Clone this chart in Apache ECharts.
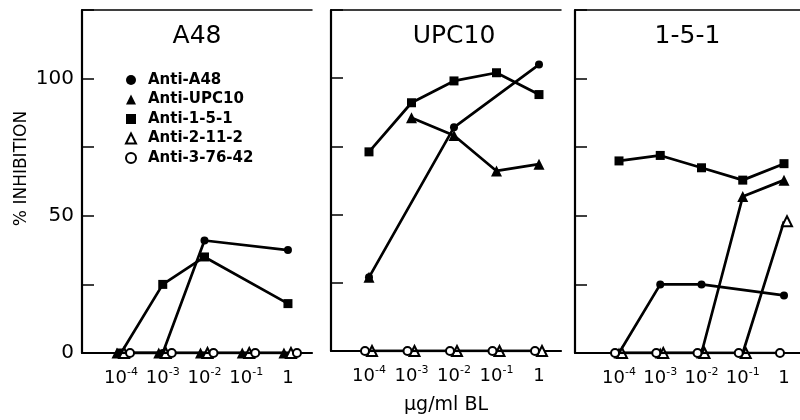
<!DOCTYPE html>
<html>
<head>
<meta charset="utf-8">
<script src="https://cdn.jsdelivr.net/npm/echarts@6/dist/echarts.min.js"></script>
<style>
html,body{margin:0;padding:0;background:#fff;}
#chart{width:800px;height:420px;}
</style>
</head>
<body>
<div id="chart"></div>
<script>
// ---------- data ----------
const xExponents = [-4, -3, -2, -1, 0];           // log10(µg/ml BL)
const panelTitles = ['A48', 'UPC10', '1-5-1'];
const seriesNames = ['Anti-A48', 'Anti-UPC10', 'Anti-1-5-1', 'Anti-2-11-2', 'Anti-3-76-42'];
const yTickValues = [0, 25, 50, 75, 100, 125];
const yLabelValues = [0, 50, 100];

// Panel A48 (% inhibition at 1e-4 .. 1)
const a48_antiA48   = [0, 0, 41, null, 37.5];
const a48_antiUPC10 = [0, 0, 0, 0, 0];
const a48_anti151   = [0, 25, 35, null, 18];
const a48_anti2112  = [0, 0, 0, 0, 0];
const a48_anti37642 = [0, 0, 0, 0, 0];

// Panel UPC10
const upc_antiA48   = [27, null, 82, null, 105];
const upc_antiUPC10 = [null, 85.5, 79, 66, 68.5];
const upc_antiUPC10_unlinked = [27, null, null, null, null];
const upc_anti151   = [73, 91, 99, 102, 94];
const upc_anti2112  = [0, 0, 0, 0, 0];
const upc_anti37642 = [0, 0, 0, 0, 0];

// Panel 1-5-1
const p151_antiA48   = [0, 25, 25, null, 21];
const p151_antiUPC10 = [0, 0, 0, 57, 63];
const p151_anti151   = [70, 72, 67.5, 63, 69];
const p151_anti2112  = [0, 0, 0, 0, 48];
const p151_anti37642 = [0, 0, 0, 0, 0];

// ---------- layout / style ----------
const FONT = 'DejaVu Sans';
const grids = [
  {left: 82,  top: 10, width: 230, height: 343},
  {left: 331, top: 10, width: 230, height: 343},
  {left: 575, top: 10, width: 225, height: 343}
];
const xRanges = [[-4.935, 0.576], [-4.894, 0.518], [-5.067, 0.388]];
const symbols = ['circle', 'triangle', 'rect', 'emptyTriangle', 'emptyCircle'];
const symbolSizes = [8, 11, 9, 10, 8];
const offsetsByPanel = [
  [0, -4, 0, 3, 9],
  [0, 0, 0, 3, -4],
  [0, 0, 0, 3, -4]
];
const panelData = [
  [a48_antiA48, a48_antiUPC10, a48_anti151, a48_anti2112, a48_anti37642],
  [upc_antiA48, upc_antiUPC10, upc_anti151, upc_anti2112, upc_anti37642],
  [p151_antiA48, p151_antiUPC10, p151_anti151, p151_anti2112, p151_anti37642]
];

function toPoints(vals) {
  return xExponents.map((x, k) => [x, vals[k]]).filter(p => p[1] !== null);
}

const xAxes = [], yAxes = [], series = [];
grids.forEach((g, i) => {
  xAxes.push({
    type: 'value', gridIndex: i, position: 'bottom',
    min: xRanges[i][0], max: xRanges[i][1],
    axisLine: {show: true, onZero: false, lineStyle: {color: '#000', width: 2.2}},
    axisTick: {show: false},
    splitLine: {show: false},
    axisLabel: {
      customValues: xExponents,
      margin: 14,
      color: '#000', fontFamily: FONT, fontSize: 18, lineHeight: 22,
      formatter: v => (v === 0 ? '1' : '10{sup|' + v + '}'),
      rich: {sup: {fontSize: 11, lineHeight: 11, verticalAlign: 'top', fontFamily: FONT, color: '#000'}}
    },
    name: i === 1 ? 'μg/ml BL' : '',
    nameLocation: 'middle', nameGap: 45,
    nameTextStyle: {color: '#000', fontFamily: FONT, fontSize: 19}
  });
  yAxes.push({
    type: 'value', gridIndex: i,
    min: 0, max: 125, interval: 25,
    axisLine: {show: true, onZero: false, lineStyle: {color: '#000', width: 2.2}},
    axisTick: {show: true, inside: true, length: 12, lineStyle: {color: '#000', width: 1.5}},
    splitLine: {show: false},
    axisLabel: {
      show: i === 0, margin: 8, color: '#000', fontFamily: FONT, fontSize: 20,
      formatter: v => (yLabelValues.indexOf(v) >= 0 ? String(v) : '')
    },
    name: i === 0 ? '% INHIBITION' : '',
    nameLocation: 'middle', nameGap: 52, nameRotate: 90,
    nameTextStyle: {color: '#000', fontFamily: FONT, fontSize: 17, padding: [0, 0, 0, 26]}
  });
  panelData[i].forEach((vals, j) => {
    series.push({
      type: 'line', name: seriesNames[j],
      xAxisIndex: i, yAxisIndex: i,
      data: toPoints(vals),
      symbol: symbols[j], symbolSize: symbolSizes[j],
      symbolOffset: [offsetsByPanel[i][j], 0],
      showAllSymbol: true,
      lineStyle: {color: '#000', width: 2.7},
      itemStyle: {color: '#000', borderColor: '#000', borderWidth: j >= 3 ? 1.8 : 0},
      z: 3 + j
    });
  });
});
// top border lines of panels
grids.forEach((g, i) => {
  xAxes.push({
    type: 'value', gridIndex: i, position: 'top',
    min: xRanges[i][0], max: xRanges[i][1],
    axisLine: {show: true, onZero: false, lineStyle: {color: '#000', width: 1.5}},
    axisTick: {show: false}, axisLabel: {show: false}, splitLine: {show: false}
  });
});
// isolated triangle in UPC10 panel (not joined by a line)
series.push({
  type: 'scatter', name: 'Anti-UPC10', xAxisIndex: 1, yAxisIndex: 1,
  data: toPoints(upc_antiUPC10_unlinked),
  symbol: 'triangle', symbolSize: 11, itemStyle: {color: '#000', opacity: 1}, z: 8
});

const option = {
  animation: false,
  backgroundColor: '#fff',
  grid: grids,
  xAxis: xAxes,
  yAxis: yAxes,
  series: series,
  legend: {
    orient: 'vertical', left: 120, top: 67,
    itemWidth: 10, itemHeight: 10, itemGap: 3.5,
    selectedMode: false,
    data: seriesNames.map((n, j) => ({name: n, icon: symbols[j]})),
    textStyle: {color: '#000', fontFamily: FONT, fontSize: 15, fontWeight: 'bold', lineHeight: 16, padding: [0, 0, 0, 7]}
  },
  graphic: panelTitles.map((t, i) => ({
    type: 'text',
    style: {
      text: t, x: grids[i].left + grids[i].width / 2 + (i === 1 ? 8 : 0), y: 24,
      textAlign: 'center', fill: '#000', fontFamily: FONT, fontSize: 25
    }
  }))
};

const chart = echarts.init(document.getElementById('chart'), null, {renderer: 'canvas'});
chart.setOption(option);
</script>
</body>
</html>
